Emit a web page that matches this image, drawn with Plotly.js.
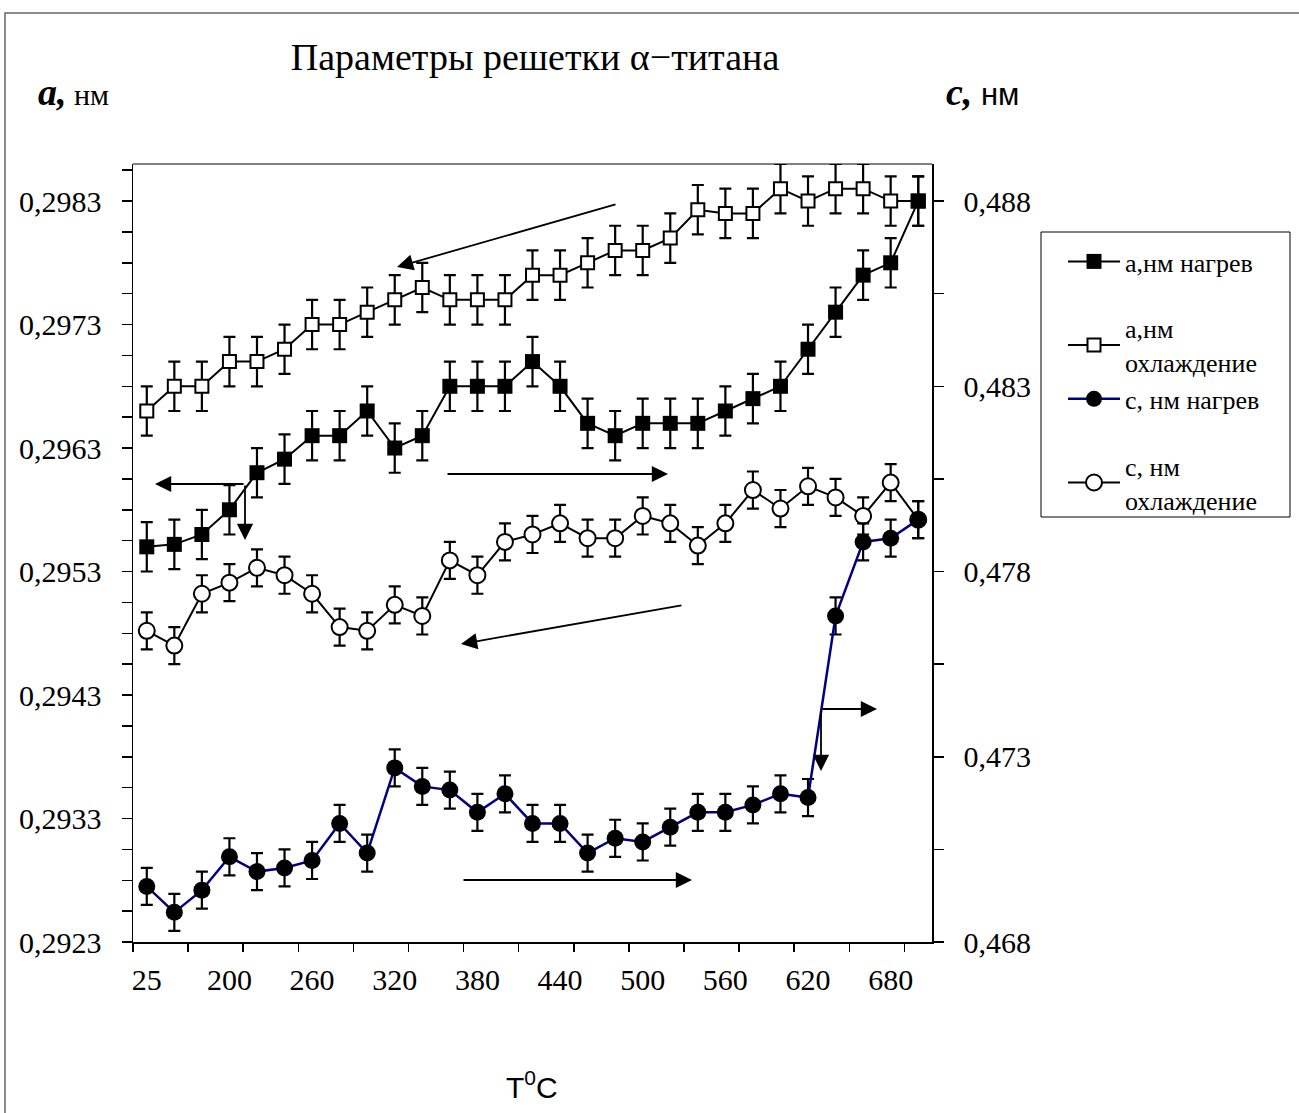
<!DOCTYPE html>
<html><head><meta charset="utf-8">
<script src="https://cdn.plot.ly/plotly-3.0.1.min.js"></script>
<style>html,body{margin:0;padding:0;background:#fff}</style>
</head><body><div id="chart" style="width:1299px;height:1113px"></div>
<script>
// ---- data ----
const temps = ['25','160','180','200','220','240','260','280','300','320','340','360','380','400','420','440','460','480','500','520','540','560','580','600','620','640','660','680','700'];
const tickLabels = ['25','200','260','320','380','440','500','560','620','680'];
const aHeat = [0.29550,0.29552,0.29560,0.29580,0.29610,0.29621,0.29640,0.29640,0.29660,0.29630,0.29640,0.29680,0.29680,0.29680,0.29700,0.29680,0.29650,0.29640,0.29650,0.29650,0.29650,0.29660,0.29670,0.29680,0.29710,0.29740,0.29770,0.29780,0.29830];
const aCool = [0.29660,0.29680,0.29680,0.29700,0.29700,0.29710,0.29730,0.29730,0.29740,0.29750,0.29760,0.29750,0.29750,0.29750,0.29770,0.29770,0.29780,0.29790,0.29790,0.29800,0.29823,0.29820,0.29820,0.29840,0.29830,0.29840,0.29840,0.29830,0.29830];
const cHeat = [0.4695,0.4688,0.4694,0.4703,0.4699,0.4700,0.4702,0.4712,0.4704,0.4727,0.4722,0.4721,0.4715,0.4720,0.4712,0.4712,0.4704,0.4708,0.4707,0.4711,0.4715,0.4715,0.4717,0.4720,0.4719,0.4768,0.4788,0.4789,0.4794];
const cCool = [0.4764,0.4760,0.4774,0.4777,0.4781,0.4779,0.4774,0.4765,0.4764,0.4771,0.4768,0.4783,0.4779,0.4788,0.4790,0.4793,0.4789,0.4789,0.4795,0.4793,0.4787,0.4793,0.4802,0.4797,0.4803,0.4800,0.4795,0.4804,0.4794];
const aErr = 0.0002;
const cErr = 0.0005;
const names = ['а,нм нагрев', 'а,нм<br>охлаждение', 'с, нм нагрев', 'с, нм<br>охлаждение'];

// ---- geometry ----
const W = 1299, H = 1113;
const PL = 133, PR = 932, PT = 164, PB = 942;
const fx = px => (px - PL) / (PR - PL);
const fy = py => (PB - py) / (PB - PT);
const SERIF = 'Liberation Serif, Times New Roman, serif';
const SANS = 'Liberation Sans, Arial, sans-serif';

const eb = v => ({type: 'constant', value: v, color: 'black', thickness: 2.2, width: 6});

const traces = [
  {name: names[1], x: temps, y: aCool, type: 'scatter', mode: 'lines+markers', legendrank: 2, legendgroup: 'g2',
   line: {color: 'black', width: 2}, marker: {symbol: 'square', size: 13, color: 'white', line: {color: 'black', width: 2}},
   error_y: eb(aErr)},
  {name: names[0], x: temps, y: aHeat, type: 'scatter', mode: 'lines+markers', legendrank: 1, legendgroup: 'g1',
   line: {color: 'black', width: 2}, marker: {symbol: 'square', size: 15, color: 'black'},
   error_y: eb(aErr)},
  {name: names[3], x: temps, y: cCool, yaxis: 'y2', type: 'scatter', mode: 'lines+markers', legendrank: 4, legendgroup: 'g3',
   line: {color: 'black', width: 2}, marker: {symbol: 'circle', size: 16, color: 'white', line: {color: 'black', width: 2}},
   error_y: eb(cErr)},
  {name: names[2], x: temps, y: cHeat, yaxis: 'y2', type: 'scatter', mode: 'lines+markers', legendrank: 3, legendgroup: 'g2',
   line: {color: '#000080', width: 2.5}, marker: {symbol: 'circle', size: 17, color: 'black'},
   error_y: eb(cErr)},
  // helper trace so the boundary-tick axis is built
  {x: [], y: [], xaxis: 'x2', showlegend: false, hoverinfo: 'skip', type: 'scatter'}
];

const arrows = [
  [397, 267, 617, 204],
  [155, 484, 245, 484],
  [245, 540, 245, 484],
  [668, 474, 446, 474],
  [461, 644, 683, 605],
  [692, 880, 462, 880],
  [877, 709, 821, 709],
  [821, 771, 821, 709]
];

const annotations = arrows.map(a => ({
  xref: 'paper', yref: 'paper', x: fx(a[0]), y: fy(a[1]), ax: a[2] - a[0], ay: a[3] - a[1],
  text: '', showarrow: true, arrowhead: 2, arrowsize: 1.8, arrowwidth: 1.8, arrowcolor: 'black', standoff: 0
}));

annotations.push(
  {xref: 'paper', yref: 'paper', x: fx(36), y: fy(92), xanchor: 'left', yanchor: 'middle', showarrow: false,
   text: '<b><i>a,</i></b><span style="font-size:30px"> нм</span>', font: {family: SERIF, size: 38, color: 'black'}},
  {xref: 'paper', yref: 'paper', x: fx(944), y: fy(92), xanchor: 'left', yanchor: 'middle', showarrow: false,
   text: '<b><i>c,</i></b><span style="font-size:31px;font-family:Liberation Sans, Arial, sans-serif"> нм</span>', font: {family: SERIF, size: 38, color: 'black'}},
  {xref: 'paper', yref: 'paper', x: fx(532), y: fy(1085), xanchor: 'center', yanchor: 'middle', showarrow: false,
   text: 'T<sup>0</sup>C', font: {family: SANS, size: 30, color: 'black'}}
);

const layout = {
  width: W, height: H,
  margin: {l: PL, r: W - PR, t: PT, b: H - PB, pad: 0},
  paper_bgcolor: 'white', plot_bgcolor: 'white',
  separators: ', ',
  showlegend: true,
  title: {text: 'Параметры решетки α−титана', font: {family: SERIF, size: 38, color: 'black'},
          x: 535 / W, xanchor: 'center', xref: 'container', y: 1 - 57 / H, yanchor: 'middle', yref: 'container'},
  xaxis: {type: 'category', categoryarray: temps, categoryorder: 'array', range: [-0.5, temps.length - 0.5],
          tickmode: 'array', tickvals: tickLabels, ticks: '', showline: true, linecolor: 'black', linewidth: 1.5,
          showgrid: false, zeroline: false, ticklabelstandoff: 10,
          tickfont: {family: SERIF, size: 30, color: 'black'}},
  xaxis2: {overlaying: 'x', anchor: 'y', side: 'bottom', type: 'linear', range: [-0.5, temps.length - 0.5],
           tickmode: 'array', tickvals: temps.map((t, i) => i).filter(i => i % 2 === 0).map(i => i - 0.5),
           ticks: 'outside', ticklen: 9, tickwidth: 1.5, tickcolor: 'black', showticklabels: false,
           showgrid: false, zeroline: false, showline: false},
  yaxis: {range: [0.2923, 0.2986], tick0: 0.2923, dtick: 0.001, tickformat: '.4f', ticks: 'outside', ticklen: 10,
          tickwidth: 1.5, tickcolor: 'black', showline: true, linecolor: 'black', linewidth: 1.5, showgrid: false,
          zeroline: false, ticklabelstandoff: 14, tickfont: {family: SERIF, size: 30, color: 'black'},
          minor: {tick0: 0.2923, dtick: 0.00025, ticks: 'outside', ticklen: 10, tickwidth: 1.5, tickcolor: 'black', showgrid: false}},
  yaxis2: {overlaying: 'y', side: 'right', anchor: 'x', range: [0.468, 0.489], tick0: 0.468, dtick: 0.005, tickformat: '.3f',
           ticks: 'outside', ticklen: 10, tickwidth: 1.5, tickcolor: 'black', showline: true, linecolor: 'black', linewidth: 1.5,
           showgrid: false, zeroline: false, ticklabelstandoff: 14, tickfont: {family: SERIF, size: 30, color: 'black'},
           minor: {tick0: 0.468, dtick: 0.0025, ticks: 'outside', ticklen: 10, tickwidth: 1.5, tickcolor: 'black', showgrid: false}},
  legend: {x: fx(1063), y: fy(238), xanchor: 'left', yanchor: 'top', xref: 'paper', yref: 'paper',
           borderwidth: 0, bgcolor: 'rgba(0,0,0,0)', tracegroupgap: 30, itemwidth: 52,
           font: {family: SERIF, size: 26, color: 'black'}, traceorder: 'grouped'},
  shapes: [
    {type: 'line', xref: 'paper', yref: 'paper', x0: 0, x1: 1, y0: 1, y1: 1, line: {color: '#808080', width: 2}, layer: 'below'},
    {type: 'rect', xref: 'paper', yref: 'paper', x0: fx(5), x1: fx(1320), y0: fy(1130), y1: fy(13),
     line: {color: '#666666', width: 1.5}, layer: 'below'},
    {type: 'rect', xref: 'paper', yref: 'paper', x0: fx(1041), x1: fx(1290), y0: fy(517), y1: fy(232),
     line: {color: 'black', width: 1}, fillcolor: 'white', layer: 'below'}
  ],
  annotations: annotations
};

Plotly.newPlot('chart', traces, layout, {staticPlot: true, displayModeBar: false});
</script></body></html>
